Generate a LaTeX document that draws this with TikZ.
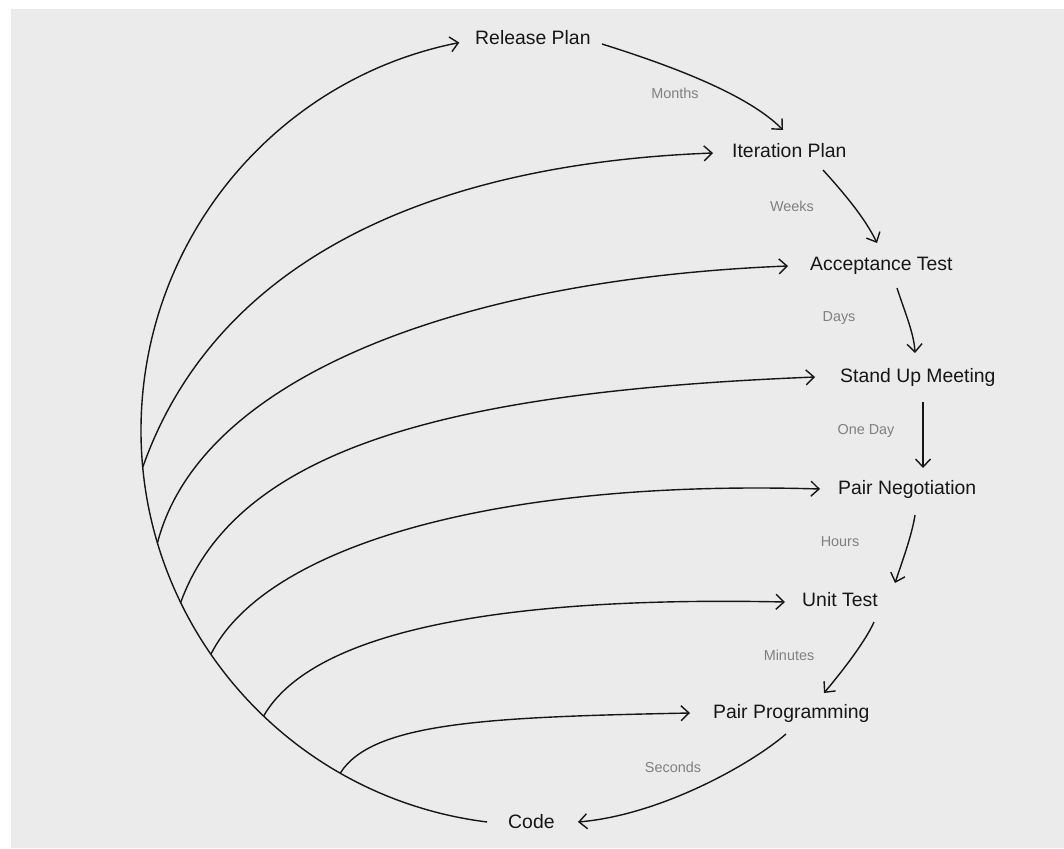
\documentclass[tikz,border=0pt]{standalone}
\usepackage{fontspec}
\setmainfont{Liberation Sans}
\usetikzlibrary{arrows.meta,calc}
\definecolor{bg}{HTML}{EBEBEB}
\definecolor{ink}{HTML}{161616}
\definecolor{lbl}{HTML}{808080}
\begin{document}
\begin{tikzpicture}[x=1pt,y=-1pt,
  conn/.style={draw=ink, line width=1.4pt, -{Straight Barb[length=8pt,width=15pt,line width=1.4pt]}},
  stage/.style={anchor=west, inner sep=0pt, text height=14pt, text depth=4pt, font=\fontsize{19.4}{22}\selectfont, text=ink},
  tlabel/.style={inner sep=0pt, font=\fontsize{14.4}{17}\selectfont, text=lbl}]
\useasboundingbox (0,0) rectangle (1064,848);
\fill[white] (0,0) rectangle (1064,848);
\fill[bg] (11,9) rectangle (1064,848);

% stages
\node[stage] (rel)  at (475,39.5)  {Release Plan};
\node[stage] (itp)  at (732,152.5) {Iteration Plan};
\node[stage] (acc)  at (810,265.5) {Acceptance Test};
\node[stage] (sum)  at (840,377)   {Stand Up Meeting};
\node[stage] (pn)   at (838,489)   {Pair Negotiation};
\node[stage] (ut)   at (802,601.5) {Unit Test};
\node[stage] (pp)   at (713,713)   {Pair Programming};
\node[stage] (code) at (508,823.5) {Code};

% time labels
\node[tlabel] (lmonths)  at (675,93)  {Months};
\node[tlabel] (lweeks)   at (792,206) {Weeks};
\node[tlabel] (ldays)    at (839,318) {Days};
\node[tlabel] (loneday)  at (866,431) {One Day};
\node[tlabel] (lhours)   at (840,542) {Hours};
\node[tlabel] (lminutes) at (789,655) {Minutes};
\node[tlabel] (lseconds) at (673,767) {Seconds};

% big circle arc and junctions
\coordinate (ctr) at (536,430);
\coordinate (j1) at ($(ctr)+(185.4:395pt)$);
\coordinate (j2) at ($(ctr)+(196.6:395pt)$);
\coordinate (j3) at ($(ctr)+(205.9:395pt)$);
\coordinate (j4) at ($(ctr)+(214.6:395pt)$);
\coordinate (j5) at ($(ctr)+(226.4:395pt)$);
\coordinate (j6) at ($(ctr)+(240.3:395pt)$);

\draw[conn] ($(code.west)+(-20.8,-1.5)$) arc[start angle=262.9, end angle=101.2, radius=395pt];

% branches
\draw[conn] (j1) .. controls (209,279) and (400,165) .. ($(itp.west)+(-19,0.5)$);
\draw[conn] (j2) .. controls (200,378) and (458,279) .. ($(acc.west)+(-22,0.5)$);
\draw[conn] (j3) .. controls (238.5,443) and (465,391) .. ($(sum.west)+(-25,0)$);
\draw[conn] (j4) .. controls (264,548) and (490,479) .. ($(pn.west)+(-18,0)$);
\draw[conn] (j5) .. controls (313,630) and (505,596) .. ($(ut.west)+(-17,0.5)$);
\draw[conn] (j6) .. controls (372,722) and (490,717) .. ($(pp.west)+(-23,0)$);

% chain on the right
\draw[conn] ($(rel.west)+(127,4.5)$) .. controls (672,66) and (748,94.5) .. ($(itp.west)+(51,-22.5)$);
\draw[conn] ($(itp.west)+(91,17.5)$) .. controls (843,192) and (865,218) .. ($(acc.west)+(67,-22.5)$);
\draw[conn] ($(acc.west)+(87,22.5)$) .. controls (904,310) and (914,333) .. ($(sum.west)+(75,-24)$);
\draw[conn] ($(sum.west)+(83,25)$) -- ($(pn.west)+(85,-21)$);
\draw[conn] ($(pn.west)+(77,26)$) .. controls (912,535) and (902,562) .. ($(ut.west)+(93,-18.5)$);
\draw[conn] ($(ut.west)+(72,20.5)$) .. controls (866,640) and (845,668) .. ($(pp.west)+(111,-20)$);
\draw[conn] ($(pp.west)+(73,21)$) .. controls (750,765) and (660,815) .. ($(code.west)+(70,-1.5)$);
\end{tikzpicture}
\end{document}
